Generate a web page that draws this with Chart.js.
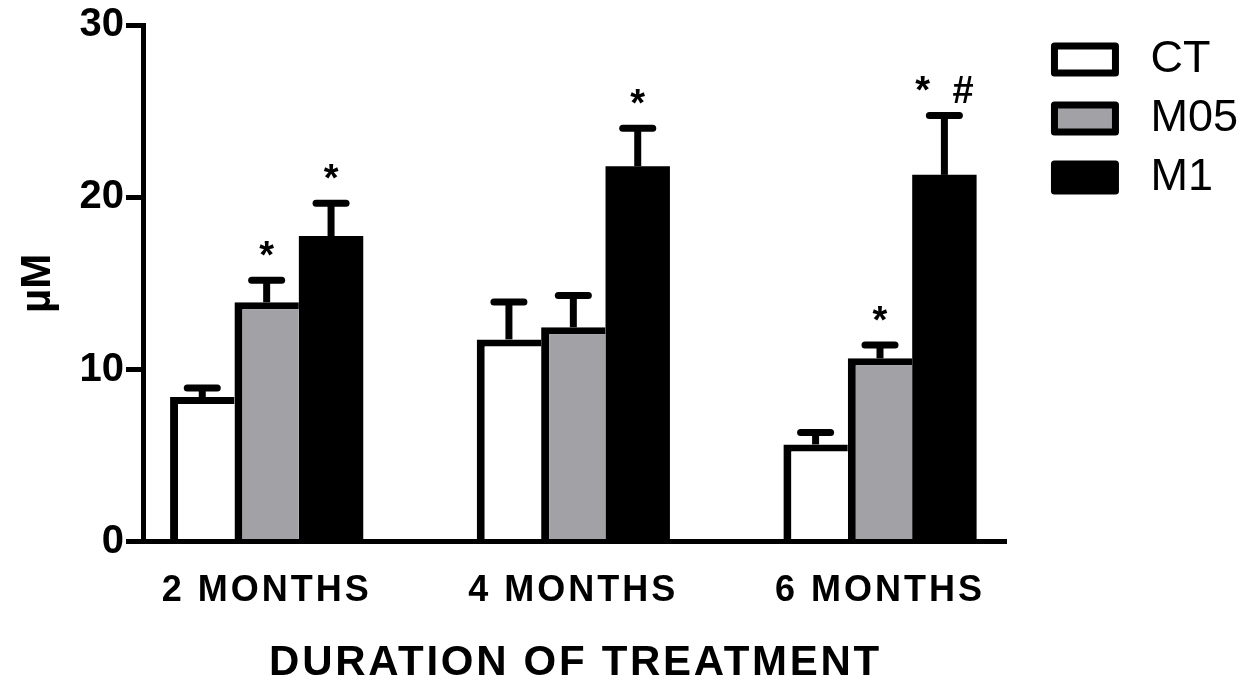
<!DOCTYPE html>
<html>
<head>
<meta charset="utf-8">
<script src="https://cdn.jsdelivr.net/npm/chart.js@4.4.1/dist/chart.umd.min.js"></script>
<style>
  html, body { margin: 0; padding: 0; background: #fff; }
  canvas { display: block; }
</style>
</head>
<body>
<canvas id="chart" width="1246" height="680"></canvas>
<script>
// Groups on the x axis and the three treatments
const groups = ['2 MONTHS', '4 MONTHS', '6 MONTHS'];
const seriesNames = ['CT', 'M05', 'M1'];

// Mean concentration (µM) and SEM per group
const ctMeans  = [8.4, 11.75, 5.65];
const ctSem    = [0.53, 2.17, 0.7];
const m05Means = [13.9, 12.45, 10.65];
const m05Sem   = [1.28, 1.85, 0.78];
const m1Means  = [17.75, 21.8, 21.3];
const m1Sem    = [1.9, 2.2, 3.45];

// Significance marks printed above the error bars
const ctMarks  = ['', '', ''];
const m05Marks = ['*', '', '*'];
const m1Marks  = ['*', '*', '* #'];

const yTicks = [0, 10, 20, 30];

const FONT = '"Liberation Sans", Arial, Helvetica, sans-serif';
Chart.defaults.font.family = FONT;
Chart.defaults.color = '#000';

const toPoints = arr => arr.map((v, i) => ({ x: i, y: v }));

// Mean bars get an upward SEM whisker with a rounded cap and the mark text
const errorBars = {
  id: 'errorBars',
  afterDatasetsDraw(chart) {
    const { ctx } = chart;
    const y = chart.scales.y;
    ctx.save();
    ctx.strokeStyle = '#000';
    ctx.fillStyle = '#000';
    chart.data.datasets.forEach((ds, di) => {
      const meta = chart.getDatasetMeta(di);
      meta.data.forEach((bar, j) => {
        const mean = ds.data[j].y;
        const yBar = y.getPixelForValue(mean);
        const yCap = y.getPixelForValue(mean + ds.sem[j]);
        ctx.lineWidth = 7;
        ctx.lineCap = 'butt';
        ctx.beginPath();
        ctx.moveTo(bar.x, yBar);
        ctx.lineTo(bar.x, yCap);
        ctx.stroke();
        ctx.lineCap = 'round';
        ctx.beginPath();
        ctx.moveTo(bar.x - 15, yCap);
        ctx.lineTo(bar.x + 15, yCap);
        ctx.stroke();
        const mark = ds.marks[j];
        if (mark) {
          ctx.font = 'bold 38px ' + FONT;
          ctx.textAlign = 'center';
          ctx.textBaseline = 'alphabetic';
          ctx.letterSpacing = '6px';
          ctx.fillText(mark, bar.x + 3, yCap - 12);
          ctx.letterSpacing = '0px';
        }
      });
    });
    ctx.restore();
  }
};

// Wider tracking for the category labels and the x-axis title
const trackedXText = {
  id: 'trackedXText',
  beforeDraw(chart) {
    const xs = chart.scales.x;
    if (!xs || xs.__tracked) return;
    const drawLabels = xs.drawLabels;
    const drawTitle = xs.drawTitle;
    xs.drawLabels = function (area) {
      const c = this.ctx; c.save(); c.letterSpacing = '3px'; drawLabels.call(this, area); c.restore();
    };
    xs.drawTitle = function () {
      const c = this.ctx; c.save(); c.letterSpacing = '2.7px'; drawTitle.call(this); c.restore();
    };
    xs.__tracked = true;
  }
};

new Chart(document.getElementById('chart'), {
  type: 'bar',
  data: {
    datasets: [
      {
        label: seriesNames[0], data: toPoints(ctMeans), sem: ctSem, marks: ctMarks,
        backgroundColor: '#ffffff', borderColor: '#000000',
        borderWidth: { left: 8, top: 7, right: 0, bottom: 0 }, borderSkipped: 'start'
      },
      {
        label: seriesNames[1], data: toPoints(m05Means), sem: m05Sem, marks: m05Marks,
        backgroundColor: '#a2a1a6', borderColor: '#000000',
        borderWidth: { left: 8, top: 7, right: 0, bottom: 0 }, borderSkipped: 'start'
      },
      {
        label: seriesNames[2], data: toPoints(m1Means), sem: m1Sem, marks: m1Marks,
        backgroundColor: '#000000', borderColor: '#000000', borderWidth: 0
      }
    ]
  },
  options: {
    responsive: false,
    animation: false,
    devicePixelRatio: 1,
    categoryPercentage: 0.63,
    barPercentage: 1.0,
    layout: { padding: { top: 23, right: -2, bottom: 0, left: 0 } },
    scales: {
      x: {
        type: 'linear',
        min: -0.4,
        max: 2.414,
        offset: false,
        afterBuildTicks: s => { s.ticks = groups.map((_, i) => ({ value: i })); },
        ticks: {
          callback: v => groups[v],
          font: { size: 36, weight: 'bold' },
          color: '#000',
          padding: 27.2,
          maxRotation: 0,
          autoSkip: false
        },
        grid: { display: false, drawTicks: false, tickLength: 0, offset: false },
        border: { display: true, color: '#000', width: 5, z: 1 },
        title: {
          display: true,
          text: 'DURATION OF TREATMENT',
          color: '#000',
          font: { size: 42, weight: 'bold', lineHeight: 0.8 },
          padding: { top: 7, bottom: 0 }
        }
      },
      y: {
        min: 0,
        max: 30,
        afterBuildTicks: s => { s.ticks = yTicks.map(v => ({ value: v })); },
        afterFit: s => { s.paddingTop = 25; },
        ticks: { font: { size: 40, weight: 'bold' }, color: '#000', padding: 2 },
        grid: { drawOnChartArea: false, drawTicks: true, tickLength: 18, tickWidth: 5, tickColor: '#000' },
        border: { display: true, color: '#000', width: 5, z: 1 },
        title: {
          display: true,
          text: 'µM',
          color: '#000',
          font: { size: 42, weight: 'bold' },
          padding: { top: 13, bottom: 14.1 }
        }
      },
      gap: {
        type: 'linear',
        position: 'right',
        display: true,
        ticks: { display: false },
        grid: { display: false, drawTicks: false },
        border: { display: false },
        afterFit: s => { s.width = 33.5; }
      }
    },
    plugins: {
      tooltip: { enabled: false },
      legend: {
        position: 'right',
        align: 'start',
        labels: {
          boxWidth: 61,
          boxHeight: 27,
          padding: 14,
          color: '#000',
          font: { size: 45 },
          generateLabels: chart => chart.data.datasets.map((ds, i) => ({
            text: ' ' + ds.label,
            fillStyle: ds.backgroundColor,
            strokeStyle: '#000',
            lineWidth: 7,
            lineJoin: 'round',
            fontColor: '#000',
            hidden: false,
            datasetIndex: i
          }))
        }
      }
    }
  },
  plugins: [errorBars, trackedXText]
});
</script>
</body>
</html>
